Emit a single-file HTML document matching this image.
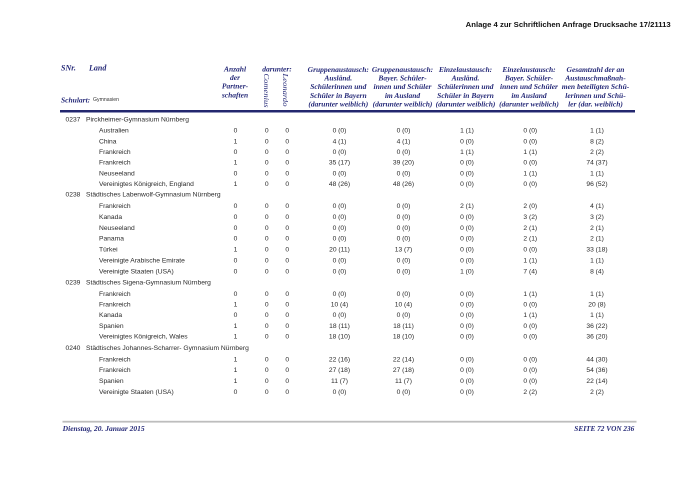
<!DOCTYPE html>
<html><head><meta charset="utf-8">
<style>
html,body{margin:0;padding:0;background:#fff;}
svg{display:block;}
.h{font-family:"Liberation Serif",serif;font-weight:bold;font-style:italic;font-size:7.5px;fill:#262a78;}
.b{font-family:"Liberation Sans",sans-serif;font-size:6.7px;fill:#2a2a2a;}
</style></head><body>
<svg width="700" height="495" viewBox="0 0 700 495" xmlns="http://www.w3.org/2000/svg" dominant-baseline="central">
<rect width="700" height="495" fill="#fff"/>
<text x="465.7" y="24.3" textLength="205" lengthAdjust="spacingAndGlyphs" style="font-family:'Liberation Sans',sans-serif;font-weight:bold;font-size:7.4px;fill:#111">Anlage 4 zur Schriftlichen Anfrage Drucksache 17/21113</text>

<!-- header -->
<g class="h">
<text x="61" y="68" style="font-size:8px">SNr.</text>
<text x="89" y="68" style="font-size:8px">Land</text>
<text x="61" y="100" style="font-size:7.5px">Schulart:</text>
<g text-anchor="middle">
<text x="235" y="69">Anzahl</text>
<text x="235" y="77.6">der</text>
<text x="235" y="86.2">Partner-</text>
<text x="235" y="94.8">schaften</text>
<text x="277" y="69">darunter:</text>

<text x="338.3" y="69.5">Gruppenaustausch:</text>
<text x="338.3" y="78.1">Ausländ.</text>
<text x="338.3" y="86.7">Schülerinnen und</text>
<text x="338.3" y="95.3">Schüler in Bayern</text>
<text x="338.3" y="103.9">(darunter weiblich)</text>

<text x="402.5" y="69.5">Gruppenaustausch:</text>
<text x="402.5" y="78.1">Bayer. Schüler-</text>
<text x="402.5" y="86.7">innen und Schüler</text>
<text x="402.5" y="95.3">im Ausland</text>
<text x="402.5" y="103.9">(darunter weiblich)</text>

<text x="465.5" y="69.5">Einzelaustausch:</text>
<text x="465.5" y="78.1">Ausländ.</text>
<text x="465.5" y="86.7">Schülerinnen und</text>
<text x="465.5" y="95.3">Schüler in Bayern</text>
<text x="465.5" y="103.9">(darunter weiblich)</text>

<text x="529" y="69.5">Einzelaustausch:</text>
<text x="529" y="78.1">Bayer. Schüler-</text>
<text x="529" y="86.7">innen und Schüler</text>
<text x="529" y="95.3">im Ausland</text>
<text x="529" y="103.9">(darunter weiblich)</text>

<text x="595.5" y="69.5">Gesamtzahl der an</text>
<text x="595.5" y="78.1">Austauschmaßnah-</text>
<text x="595.5" y="86.7">men beteiligten Schü-</text>
<text x="595.5" y="95.3">lerinnen und Schü-</text>
<text x="595.5" y="103.9">ler (dar. weiblich)</text>
</g>
<text transform="translate(266.7,73.5) rotate(90)" textLength="34" lengthAdjust="spacingAndGlyphs" style="font-weight:normal">Comenius</text>
<text transform="translate(285.5,73.5) rotate(90)" textLength="33" lengthAdjust="spacingAndGlyphs" style="font-weight:normal">Leonardo</text>
</g>
<text x="93" y="100" textLength="26" lengthAdjust="spacingAndGlyphs" style="font-family:'Liberation Sans',sans-serif;font-size:5.6px;fill:#333">Gymnasien</text>

<rect x="60" y="110" width="575" height="2.2" fill="#23276e"/>
<rect x="60" y="112.2" width="575" height="0.8" fill="#8c8fb8"/>

<!-- body -->
<g class="b">
<text x="65.5" y="120">0237</text><text x="86" y="120">Pirckheimer-Gymnasium Nürnberg</text>
<text x="65.5" y="195.2">0238</text><text x="86" y="195.2">Städtisches Labenwolf-Gymnasium Nürnberg</text>
<text x="65.5" y="283.2">0239</text><text x="86" y="283.2">Städtisches Sigena-Gymnasium Nürnberg</text>
<text x="65.5" y="348.4">0240</text><text x="86" y="348.4">Städtisches Johannes-Scharrer- Gymnasium Nürnberg</text>

<text x="99" y="131.2">Australien</text>
<text x="99" y="141.8">China</text>
<text x="99" y="152.4">Frankreich</text>
<text x="99" y="163">Frankreich</text>
<text x="99" y="173.8">Neuseeland</text>
<text x="99" y="184.4">Vereinigtes Königreich, England</text>

<text x="99" y="206.6">Frankreich</text>
<text x="99" y="217.3">Kanada</text>
<text x="99" y="228.3">Neuseeland</text>
<text x="99" y="239.2">Panama</text>
<text x="99" y="250">Türkei</text>
<text x="99" y="261.2">Vereinigte Arabische Emirate</text>
<text x="99" y="272.2">Vereinigte Staaten (USA)</text>

<text x="99" y="294.3">Frankreich</text>
<text x="99" y="305">Frankreich</text>
<text x="99" y="315.7">Kanada</text>
<text x="99" y="326.3">Spanien</text>
<text x="99" y="337.2">Vereinigtes Königreich, Wales</text>

<text x="99" y="360">Frankreich</text>
<text x="99" y="370.7">Frankreich</text>
<text x="99" y="381.3">Spanien</text>
<text x="99" y="392.3">Vereinigte Staaten (USA)</text>

<g text-anchor="middle">
<g><text x="235.5" y="131.2">0</text><text x="266.7" y="131.2">0</text><text x="287.3" y="131.2">0</text><text x="339.5" y="131.2">0 (0)</text><text x="403.5" y="131.2">0 (0)</text><text x="467" y="131.2">1 (1)</text><text x="530.3" y="131.2">0 (0)</text><text x="597" y="131.2">1 (1)</text></g>
<g><text x="235.5" y="141.8">1</text><text x="266.7" y="141.8">0</text><text x="287.3" y="141.8">0</text><text x="339.5" y="141.8">4 (1)</text><text x="403.5" y="141.8">4 (1)</text><text x="467" y="141.8">0 (0)</text><text x="530.3" y="141.8">0 (0)</text><text x="597" y="141.8">8 (2)</text></g>
<g><text x="235.5" y="152.4">0</text><text x="266.7" y="152.4">0</text><text x="287.3" y="152.4">0</text><text x="339.5" y="152.4">0 (0)</text><text x="403.5" y="152.4">0 (0)</text><text x="467" y="152.4">1 (1)</text><text x="530.3" y="152.4">1 (1)</text><text x="597" y="152.4">2 (2)</text></g>
<g><text x="235.5" y="163">1</text><text x="266.7" y="163">0</text><text x="287.3" y="163">0</text><text x="339.5" y="163">35 (17)</text><text x="403.5" y="163">39 (20)</text><text x="467" y="163">0 (0)</text><text x="530.3" y="163">0 (0)</text><text x="597" y="163">74 (37)</text></g>
<g><text x="235.5" y="173.8">0</text><text x="266.7" y="173.8">0</text><text x="287.3" y="173.8">0</text><text x="339.5" y="173.8">0 (0)</text><text x="403.5" y="173.8">0 (0)</text><text x="467" y="173.8">0 (0)</text><text x="530.3" y="173.8">1 (1)</text><text x="597" y="173.8">1 (1)</text></g>
<g><text x="235.5" y="184.4">1</text><text x="266.7" y="184.4">0</text><text x="287.3" y="184.4">0</text><text x="339.5" y="184.4">48 (26)</text><text x="403.5" y="184.4">48 (26)</text><text x="467" y="184.4">0 (0)</text><text x="530.3" y="184.4">0 (0)</text><text x="597" y="184.4">96 (52)</text></g>

<g><text x="235.5" y="206.6">0</text><text x="266.7" y="206.6">0</text><text x="287.3" y="206.6">0</text><text x="339.5" y="206.6">0 (0)</text><text x="403.5" y="206.6">0 (0)</text><text x="467" y="206.6">2 (1)</text><text x="530.3" y="206.6">2 (0)</text><text x="597" y="206.6">4 (1)</text></g>
<g><text x="235.5" y="217.3">0</text><text x="266.7" y="217.3">0</text><text x="287.3" y="217.3">0</text><text x="339.5" y="217.3">0 (0)</text><text x="403.5" y="217.3">0 (0)</text><text x="467" y="217.3">0 (0)</text><text x="530.3" y="217.3">3 (2)</text><text x="597" y="217.3">3 (2)</text></g>
<g><text x="235.5" y="228.3">0</text><text x="266.7" y="228.3">0</text><text x="287.3" y="228.3">0</text><text x="339.5" y="228.3">0 (0)</text><text x="403.5" y="228.3">0 (0)</text><text x="467" y="228.3">0 (0)</text><text x="530.3" y="228.3">2 (1)</text><text x="597" y="228.3">2 (1)</text></g>
<g><text x="235.5" y="239.2">0</text><text x="266.7" y="239.2">0</text><text x="287.3" y="239.2">0</text><text x="339.5" y="239.2">0 (0)</text><text x="403.5" y="239.2">0 (0)</text><text x="467" y="239.2">0 (0)</text><text x="530.3" y="239.2">2 (1)</text><text x="597" y="239.2">2 (1)</text></g>
<g><text x="235.5" y="250">1</text><text x="266.7" y="250">0</text><text x="287.3" y="250">0</text><text x="339.5" y="250">20 (11)</text><text x="403.5" y="250">13 (7)</text><text x="467" y="250">0 (0)</text><text x="530.3" y="250">0 (0)</text><text x="597" y="250">33 (18)</text></g>
<g><text x="235.5" y="261.2">0</text><text x="266.7" y="261.2">0</text><text x="287.3" y="261.2">0</text><text x="339.5" y="261.2">0 (0)</text><text x="403.5" y="261.2">0 (0)</text><text x="467" y="261.2">0 (0)</text><text x="530.3" y="261.2">1 (1)</text><text x="597" y="261.2">1 (1)</text></g>
<g><text x="235.5" y="272.2">0</text><text x="266.7" y="272.2">0</text><text x="287.3" y="272.2">0</text><text x="339.5" y="272.2">0 (0)</text><text x="403.5" y="272.2">0 (0)</text><text x="467" y="272.2">1 (0)</text><text x="530.3" y="272.2">7 (4)</text><text x="597" y="272.2">8 (4)</text></g>

<g><text x="235.5" y="294.3">0</text><text x="266.7" y="294.3">0</text><text x="287.3" y="294.3">0</text><text x="339.5" y="294.3">0 (0)</text><text x="403.5" y="294.3">0 (0)</text><text x="467" y="294.3">0 (0)</text><text x="530.3" y="294.3">1 (1)</text><text x="597" y="294.3">1 (1)</text></g>
<g><text x="235.5" y="305">1</text><text x="266.7" y="305">0</text><text x="287.3" y="305">0</text><text x="339.5" y="305">10 (4)</text><text x="403.5" y="305">10 (4)</text><text x="467" y="305">0 (0)</text><text x="530.3" y="305">0 (0)</text><text x="597" y="305">20 (8)</text></g>
<g><text x="235.5" y="315.7">0</text><text x="266.7" y="315.7">0</text><text x="287.3" y="315.7">0</text><text x="339.5" y="315.7">0 (0)</text><text x="403.5" y="315.7">0 (0)</text><text x="467" y="315.7">0 (0)</text><text x="530.3" y="315.7">1 (1)</text><text x="597" y="315.7">1 (1)</text></g>
<g><text x="235.5" y="326.3">1</text><text x="266.7" y="326.3">0</text><text x="287.3" y="326.3">0</text><text x="339.5" y="326.3">18 (11)</text><text x="403.5" y="326.3">18 (11)</text><text x="467" y="326.3">0 (0)</text><text x="530.3" y="326.3">0 (0)</text><text x="597" y="326.3">36 (22)</text></g>
<g><text x="235.5" y="337.2">1</text><text x="266.7" y="337.2">0</text><text x="287.3" y="337.2">0</text><text x="339.5" y="337.2">18 (10)</text><text x="403.5" y="337.2">18 (10)</text><text x="467" y="337.2">0 (0)</text><text x="530.3" y="337.2">0 (0)</text><text x="597" y="337.2">36 (20)</text></g>

<g><text x="235.5" y="360">1</text><text x="266.7" y="360">0</text><text x="287.3" y="360">0</text><text x="339.5" y="360">22 (16)</text><text x="403.5" y="360">22 (14)</text><text x="467" y="360">0 (0)</text><text x="530.3" y="360">0 (0)</text><text x="597" y="360">44 (30)</text></g>
<g><text x="235.5" y="370.7">1</text><text x="266.7" y="370.7">0</text><text x="287.3" y="370.7">0</text><text x="339.5" y="370.7">27 (18)</text><text x="403.5" y="370.7">27 (18)</text><text x="467" y="370.7">0 (0)</text><text x="530.3" y="370.7">0 (0)</text><text x="597" y="370.7">54 (36)</text></g>
<g><text x="235.5" y="381.3">1</text><text x="266.7" y="381.3">0</text><text x="287.3" y="381.3">0</text><text x="339.5" y="381.3">11 (7)</text><text x="403.5" y="381.3">11 (7)</text><text x="467" y="381.3">0 (0)</text><text x="530.3" y="381.3">0 (0)</text><text x="597" y="381.3">22 (14)</text></g>
<g><text x="235.5" y="392.3">0</text><text x="266.7" y="392.3">0</text><text x="287.3" y="392.3">0</text><text x="339.5" y="392.3">0 (0)</text><text x="403.5" y="392.3">0 (0)</text><text x="467" y="392.3">0 (0)</text><text x="530.3" y="392.3">2 (2)</text><text x="597" y="392.3">2 (2)</text></g>
</g>
</g>

<!-- footer -->
<rect x="62.5" y="420.8" width="574" height="1.8" fill="#bdbdbd"/>
<text class="h" x="62.7" y="428.5" textLength="82" lengthAdjust="spacingAndGlyphs" style="font-size:7.5px">Dienstag, 20. Januar 2015</text>
<text class="h" x="574.3" y="428.5" textLength="60" lengthAdjust="spacingAndGlyphs" style="font-size:7.5px">SEITE 72 VON 236</text>
</svg>
</body></html>
